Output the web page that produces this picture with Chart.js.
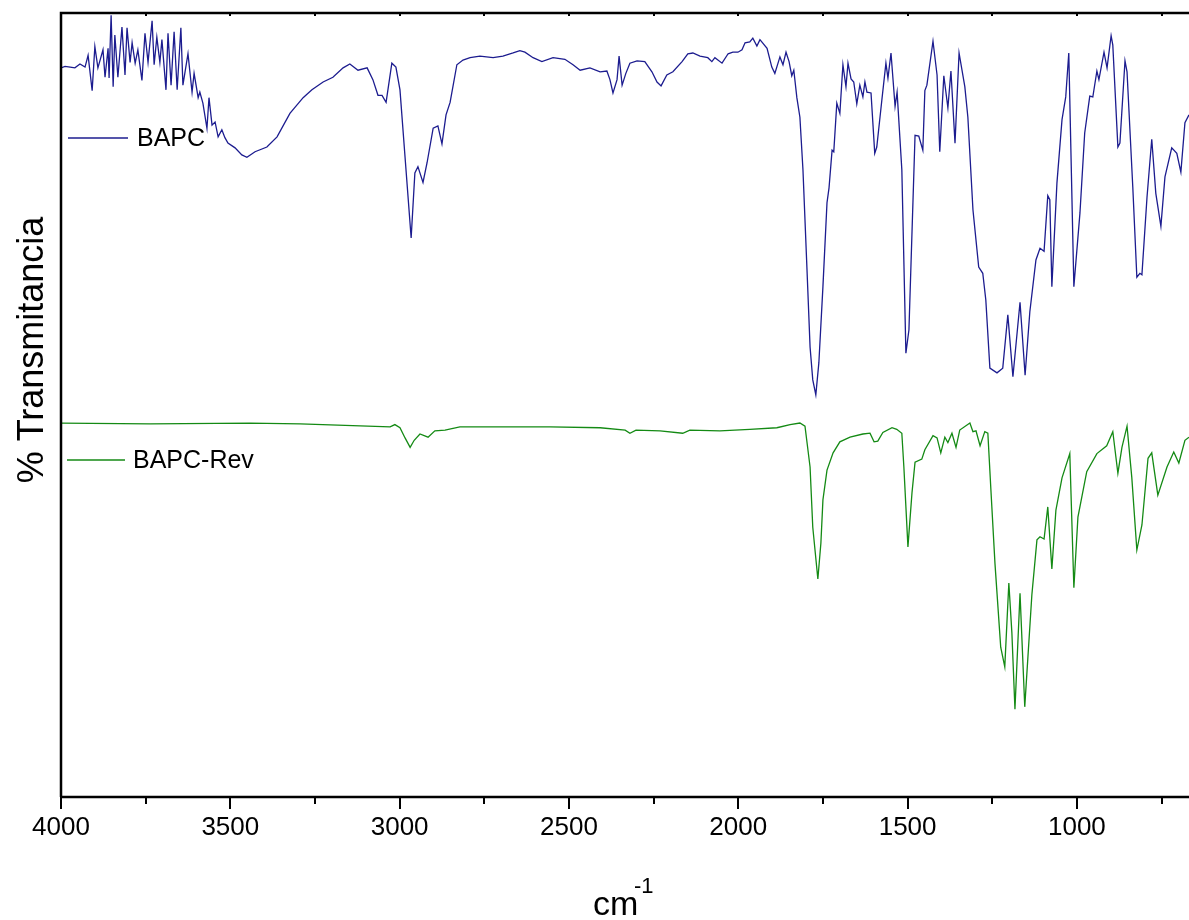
<!DOCTYPE html>
<html>
<head>
<meta charset="utf-8">
<script src="https://cdn.jsdelivr.net/npm/chart.js@4.4.1/dist/chart.umd.min.js"></script>
<style>
  html, body { margin: 0; padding: 0; background: #fff; }
  #wrap { width: 1189px; height: 920px; position: relative; }
</style>
</head>
<body>
<div id="wrap"><canvas id="c" width="1189" height="920"></canvas></div>
<script>
// ---- data (wavenumber in cm^-1, % transmittance in arbitrary offset units) ----
const bapcWavenumber = [4000,3988,3973,3959,3944,3929,3920,3908,3900,3891,3876,3870,3861,3858,3852,3846,3841,3832,3820,3811,3805,3796,3790,3781,3773,3761,3752,3743,3731,3725,3717,3708,3702,3690,3684,3675,3666,3657,3646,3640,3625,3613,3607,3595,3590,3581,3569,3563,3554,3545,3536,3525,3516,3507,3486,3466,3451,3427,3392,3362,3324,3285,3259,3226,3197,3167,3147,3123,3096,3079,3064,3052,3040,3023,3011,2999,2984,2966,2955,2946,2931,2919,2901,2887,2875,2863,2851,2831,2813,2792,2763,2724,2695,2665,2645,2630,2606,2580,2547,2512,2488,2467,2438,2408,2388,2379,2370,2358,2352,2343,2332,2320,2299,2276,2255,2240,2228,2211,2193,2166,2149,2134,2113,2090,2078,2069,2048,2030,2016,2001,1989,1980,1966,1957,1945,1936,1915,1901,1892,1877,1868,1859,1850,1842,1836,1827,1818,1809,1797,1788,1780,1771,1762,1750,1738,1732,1723,1718,1709,1700,1691,1682,1676,1667,1659,1650,1641,1632,1626,1620,1608,1597,1591,1576,1564,1558,1549,1537,1531,1517,1505,1496,1478,1467,1455,1449,1443,1425,1413,1405,1393,1381,1372,1360,1348,1331,1322,1307,1290,1278,1269,1257,1236,1219,1204,1189,1168,1153,1139,1121,1109,1097,1086,1080,1074,1059,1044,1033,1024,1009,991,977,962,953,941,935,920,911,899,894,879,873,858,852,835,823,814,808,793,779,767,752,740,720,705,693,681,669];
const bapcTransmittance = [93.0,93.2,93.1,93.0,93.5,93.1,94.6,90.1,95.7,93.0,95.3,91.8,95.5,91.7,99.7,90.6,97.2,91.8,98.2,92.1,98.1,93.7,96.2,93.6,95.3,91.4,97.4,93.7,99.0,93.4,96.9,93.7,96.6,90.2,97.4,90.8,97.6,90.2,98.1,90.8,94.8,89.9,92.3,89.2,89.9,88.5,85.3,89.2,85.7,86.1,84.2,85.1,84.1,83.4,82.8,81.9,81.6,82.3,82.9,84.2,87.2,89.2,90.2,91.2,91.8,93.0,93.5,92.7,93.0,91.5,89.5,89.5,88.6,93.6,93.1,90.2,81.6,71.3,79.6,80.4,78.4,80.9,85.3,85.6,83.3,87.0,88.6,93.4,94.0,94.3,94.5,94.3,94.5,94.9,95.2,95.0,94.3,93.8,94.3,94.1,93.4,92.7,93.0,92.5,92.6,91.5,89.8,91.5,94.5,90.8,92.3,93.6,93.9,93.8,92.5,91.2,90.7,92.1,92.5,93.8,94.8,94.9,94.5,94.3,93.8,94.3,93.6,94.8,95.0,95.0,95.3,96.2,96.3,96.8,95.8,96.6,95.5,93.1,92.3,94.4,93.4,95.0,93.8,92.0,92.7,89.2,86.7,80.0,67.2,57.4,53.2,51.3,55.4,65.1,75.8,77.7,82.5,82.3,88.5,87.2,93.4,90.6,93.6,91.6,91.2,88.4,90.8,89.3,91.2,89.9,89.8,82.1,82.9,88.9,93.6,91.7,94.9,88.1,89.9,80.0,56.6,59.6,84.4,84.3,82.5,90.1,90.8,96.4,92.1,82.3,92.0,87.9,92.6,83.4,94.9,90.6,86.7,74.9,67.6,66.8,63.4,54.7,54.1,54.7,61.5,53.6,63.1,53.8,61.9,68.5,70.0,69.6,76.7,76.2,65.1,78.3,86.4,89.3,94.9,65.1,74.5,84.7,89.4,89.3,92.6,91.5,95.0,93.0,97.1,95.9,82.9,83.4,93.9,92.5,77.8,66.3,66.8,66.6,76.5,83.9,77.0,72.8,79.1,82.8,82.1,79.7,86.0,87.0];

const revWavenumber = [4000,3737,3442,3294,3028,3014,2999,2984,2969,2957,2940,2916,2896,2866,2822,2704,2556,2408,2334,2320,2302,2231,2164,2143,2054,1966,1886,1847,1818,1803,1788,1780,1765,1756,1750,1738,1720,1700,1670,1632,1611,1599,1588,1573,1546,1532,1517,1511,1499,1487,1478,1458,1449,1425,1413,1402,1390,1381,1369,1357,1346,1316,1307,1298,1286,1272,1263,1254,1242,1225,1213,1201,1192,1183,1168,1154,1133,1118,1109,1097,1086,1074,1062,1044,1021,1009,997,971,941,912,894,879,867,852,838,823,808,790,779,761,734,714,699,681,669];
const revTransmittance = [47.7,47.6,47.7,47.6,47.2,47.5,47.1,45.8,44.6,45.5,46.3,45.9,46.7,46.8,47.2,47.2,47.2,47.1,46.8,46.4,46.8,46.7,46.4,46.8,46.7,46.9,47.1,47.5,47.7,47.3,42.1,34.4,27.8,32.4,37.9,41.7,43.9,45.3,45.9,46.3,46.4,45.3,45.4,46.5,47.1,46.9,46.4,42.1,31.9,38.8,42.7,43.1,44.3,46.1,45.8,43.9,45.9,45.2,46.4,44.6,46.8,47.7,46.6,46.7,44.8,46.6,46.4,39.2,29.8,19.1,16.6,27.3,20.9,11.2,26.0,11.5,25.8,32.8,33.2,32.9,37.0,29.1,36.6,40.7,43.8,26.7,35.7,41.5,43.8,44.8,46.6,41.3,44.6,47.3,40.8,31.5,34.7,43.2,43.9,38.5,42.1,44.0,42.6,45.5,45.9];

const seriesNames = ["BAPC", "BAPC-Rev"];
const seriesColors = ["#1c1c8f", "#148a14"];
const xMajorTicks = [4000, 3500, 3000, 2500, 2000, 1500, 1000];
const xMinorStep = 250;
const xMin = 669, xMax = 4000;

function pairs(xs, ys) { return xs.map((x, i) => ({ x: x, y: ys[i] })); }

const framePlugin = {
  id: 'frame',
  afterDraw(chart) {
    const ctx = chart.ctx;
    const a = chart.chartArea;
    const xs = chart.scales.x;
    ctx.save();
    ctx.strokeStyle = '#000';
    ctx.lineWidth = 2.5;
    ctx.beginPath();
    ctx.moveTo(a.left, a.bottom); ctx.lineTo(a.left, a.top);
    ctx.lineTo(a.right + 2, a.top);
    ctx.moveTo(a.left - 1, a.bottom); ctx.lineTo(a.right + 2, a.bottom);
    ctx.stroke();
    // ticks
    ctx.lineWidth = 2;
    for (let v = xMax; v >= xMin; v -= xMinorStep) {
      const px = Math.round(xs.getPixelForValue(v));
      const major = (v % 500 === 0);
      ctx.beginPath();
      ctx.moveTo(px, a.bottom);
      ctx.lineTo(px, a.bottom + (major ? 12 : 7));
      ctx.stroke();
      ctx.beginPath();
      ctx.moveTo(px, a.top);
      ctx.lineTo(px, a.top + 3);
      ctx.stroke();
    }
    // legend entries
    ctx.lineWidth = 1.3;
    ctx.font = '25px "Liberation Sans", Arial, sans-serif';
    ctx.textBaseline = 'middle';
    ctx.fillStyle = '#000';
    ctx.strokeStyle = seriesColors[0];
    ctx.beginPath(); ctx.moveTo(68, 138); ctx.lineTo(128, 138); ctx.stroke();
    ctx.fillText(seriesNames[0], 137, 139);
    ctx.strokeStyle = seriesColors[1];
    ctx.beginPath(); ctx.moveTo(67, 460); ctx.lineTo(125, 460); ctx.stroke();
    ctx.fillText(seriesNames[1], 133, 461);
    // y title
    ctx.save();
    ctx.translate(33, 350);
    ctx.rotate(-Math.PI / 2);
    ctx.textAlign = 'center';
    ctx.font = '36px "Liberation Sans", Arial, sans-serif';
    ctx.fillText('% Transmitancia', 0, 0);
    ctx.restore();
    // x title cm^-1
    ctx.textAlign = 'left';
    ctx.textBaseline = 'alphabetic';
    ctx.font = '34px "Liberation Sans", Arial, sans-serif';
    ctx.fillText('cm', 593, 915);
    ctx.font = '22px "Liberation Sans", Arial, sans-serif';
    ctx.fillText('-1', 634, 893);
    ctx.restore();
  }
};

new Chart(document.getElementById('c'), {
  type: 'line',
  data: {
    datasets: [
      { label: seriesNames[0], data: pairs(bapcWavenumber, bapcTransmittance), borderColor: seriesColors[0], borderWidth: 1.3, pointRadius: 0, tension: 0, fill: false },
      { label: seriesNames[1], data: pairs(revWavenumber, revTransmittance), borderColor: seriesColors[1], borderWidth: 1.3, pointRadius: 0, tension: 0, fill: false }
    ]
  },
  options: {
    responsive: false,
    animation: false,
    devicePixelRatio: 1,
    layout: { padding: { top: 13, right: 0, left: 0, bottom: 0 } },
    plugins: { legend: { display: false }, tooltip: { enabled: false }, title: { display: false } },
    scales: {
      x: {
        type: 'linear', reverse: true, min: xMin, max: xMax,
        grid: { display: false, drawTicks: false },
        border: { display: false },
        afterBuildTicks(scale) { scale.ticks = xMajorTicks.map(v => ({ value: v })); },
        afterFit(scale) { scale.height = 123; },
        ticks: {
          color: '#000', padding: 15, maxRotation: 0, autoSkip: false,
          font: { family: '"Liberation Sans", Arial, sans-serif', size: 26 },
          callback: (v) => String(v)
        }
      },
      y: {
        type: 'linear', min: 0, max: 100,
        grid: { display: false, drawTicks: false },
        border: { display: false },
        ticks: { display: false },
        afterFit(scale) { scale.width = 61; }
      }
    }
  },
  plugins: [framePlugin]
});
</script>
</body>
</html>
